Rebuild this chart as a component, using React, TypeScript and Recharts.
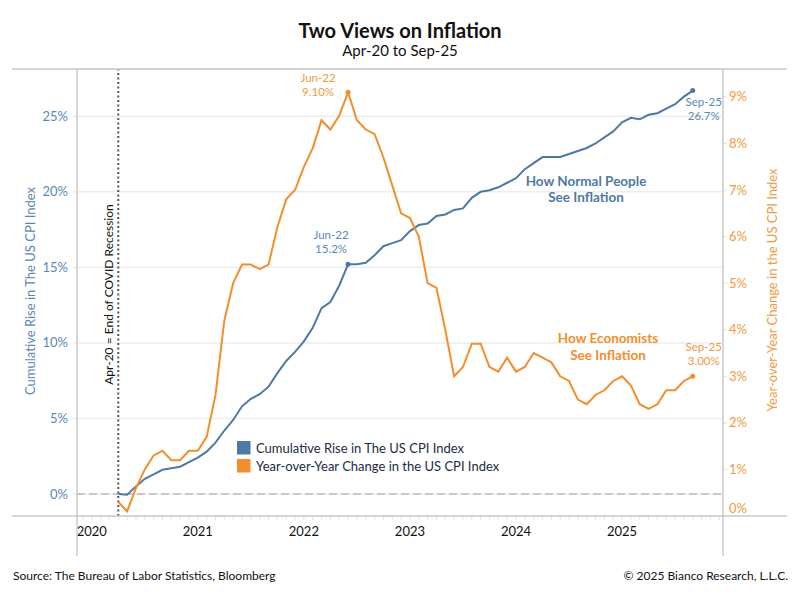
import React from "react";
import {
  CartesianGrid,
  Line,
  LineChart,
  ReferenceDot,
  ReferenceLine,
  XAxis,
  YAxis,
} from "recharts";

const FONT = "Lato, 'Open Sans', sans-serif";
const BLUE = "#4e79a7";
const ORANGE = "#f28e2b";
const BLUE_TEXT = "#5b87b8";
const ORANGE_TEXT = "#f39a40";
const FRAME = "#c8c8c8";

// monthly, Apr-20 .. Sep-25 (x = months after Jan-20)
const startMonth = 3;
const cumulativeRise = [
  0.0, -0.05, 0.5, 1.0, 1.3, 1.6, 1.7, 1.8, 2.1,
  2.4, 2.8, 3.4, 4.2, 4.9, 5.8, 6.3, 6.6, 7.1, 8.0, 8.8, 9.4,
  10.1, 11.0, 12.3, 12.7, 13.8, 15.2, 15.2, 15.3, 15.8, 16.4, 16.6, 16.8,
  17.4, 17.8, 17.9, 18.4, 18.5, 18.8, 18.9, 19.6, 20.0, 20.1, 20.3, 20.6,
  20.9, 21.5, 21.9, 22.3, 22.3, 22.3, 22.5, 22.7, 22.9, 23.2, 23.6, 24.0,
  24.6, 24.9, 24.8, 25.1, 25.2, 25.5, 25.8, 26.3, 26.7,
];
const yoyChange = [
  0.3, 0.1, 0.6, 1.0, 1.3, 1.4, 1.2, 1.2, 1.4,
  1.4, 1.7, 2.6, 4.2, 5.0, 5.4, 5.4, 5.3, 5.4, 6.2, 6.8, 7.0,
  7.5, 7.9, 8.5, 8.3, 8.6, 9.1, 8.5, 8.3, 8.2, 7.7, 7.1, 6.5,
  6.4, 6.0, 5.0, 4.9, 4.0, 3.0, 3.2, 3.7, 3.7, 3.2, 3.1, 3.4,
  3.1, 3.2, 3.5, 3.4, 3.3, 3.0, 2.9, 2.5, 2.4, 2.6, 2.7, 2.9,
  3.0, 2.8, 2.4, 2.3, 2.4, 2.7, 2.7, 2.9, 3.0,
];
const yearLabels = ["2020", "2021", "2022", "2023", "2024", "2025"];
const leftTicks = [0, 5, 10, 15, 20, 25];
const rightTicks = [0, 1, 2, 3, 4, 5, 6, 7, 8, 9];
const monthTicks = Array.from({ length: 73 }, (_, i) => i - 1);

const MONTHS = ["Jan", "Feb", "Mar", "Apr", "May", "Jun", "Jul", "Aug", "Sep", "Oct", "Nov", "Dec"];
const monthName = (m: number) => `${MONTHS[m % 12]}-${20 + Math.floor(m / 12)}`;

const data = cumulativeRise.map((cum, i) => ({
  m: startMonth + i,
  label: monthName(startMonth + i),
  cum,
  yoy: yoyChange[i],
}));
const pointAt = (label: string) => data.find((d) => d.label === label)!;

const jun22 = pointAt("Jun-22");
const sep25 = pointAt("Sep-25");

const YearTick = (props: any) => {
  const { x, y, payload } = props;
  const m = payload.value;
  if (m < 0 || m % 12 !== 0) return null;
  return (
    <text x={x} y={y + 14} textAnchor="middle" fontSize={13} fill="#111" fontFamily={FONT}>
      {yearLabels[m / 12]}
    </text>
  );
};

const RightTick = (props: any) => {
  const { x, y, payload } = props;
  return (
    <text
      x={x}
      y={payload.value === 0 ? y - 8 : y}
      dy="0.35em"
      textAnchor="start"
      fontSize={13}
      fill={ORANGE_TEXT}
      fontFamily={FONT}
    >
      {payload.value}%
    </text>
  );
};

// two-line callout next to a reference dot
const callout =
  (l1: string, l2: string, dx: number, dy: number, color: string) => (props: any) => {
    const { viewBox } = props;
    const cx = viewBox.x + viewBox.width / 2;
    const cy = viewBox.y + viewBox.height / 2;
    return (
      <text fontSize={11.5} fill={color} fontFamily={FONT} textAnchor="middle">
        <tspan x={cx + dx} y={cy + dy}>{l1}</tspan>
        <tspan x={cx + dx} y={cy + dy + 14}>{l2}</tspan>
      </text>
    );
  };

const RecessionLabel = (props: any) => {
  const { viewBox } = props;
  const x = viewBox.x - 9;
  const y = viewBox.y + viewBox.height / 2 + 2;
  return (
    <text
      x={x}
      y={y}
      transform={`rotate(-90, ${x}, ${y})`}
      textAnchor="middle"
      dy="0.35em"
      fontSize={12}
      fill="#111"
      fontFamily={FONT}
    >
      Apr-20 = End of COVID Recession
    </text>
  );
};

function Overlay() {
  return (
    <svg
      width={800}
      height={600}
      style={{ position: "absolute", left: 0, top: 0, pointerEvents: "none" }}
      fontFamily={FONT}
    >
      {/* frame */}
      <line x1={12} x2={787} y1={69} y2={69} stroke={FRAME} strokeWidth={1.5} />
      <line x1={12} x2={787} y1={516} y2={516} stroke={FRAME} strokeWidth={1.5} />
      <line x1={77} x2={77} y1={69} y2={556} stroke={FRAME} strokeWidth={1.5} />
      <line x1={723} x2={723} y1={69} y2={556} stroke={FRAME} strokeWidth={1.5} />

      <text x={400} y={38} textAnchor="middle" fontSize={20} fontWeight={700} fill="#111">
        Two Views on Inflation
      </text>
      <text x={400} y={56} textAnchor="middle" fontSize={15} fill="#111">
        Apr-20 to Sep-25
      </text>

      <text x={30} y={291} transform="rotate(-90, 30, 291)" textAnchor="middle" dy="0.35em" fontSize={13} fill={BLUE_TEXT}>
        Cumulative Rise in The US CPI Index
      </text>
      <text x={772} y={290} transform="rotate(-90, 772, 290)" textAnchor="middle" dy="0.35em" fontSize={13} fill={ORANGE_TEXT}>
        Year-over-Year Change in the US CPI Index
      </text>

      <text textAnchor="middle" fontSize={13.5} fontWeight={700} fill={BLUE}>
        <tspan x={586} y={186}>How Normal People</tspan>
        <tspan x={586} y={202}>See Inflation</tspan>
      </text>
      <text textAnchor="middle" fontSize={13.5} fontWeight={700} fill={ORANGE}>
        <tspan x={608} y={343}>How Economists</tspan>
        <tspan x={608} y={360}>See Inflation</tspan>
      </text>

      {/* legend */}
      <rect x={237} y={441} width={13.5} height={13.5} fill={BLUE} />
      <text x={256} y={448} dy="0.35em" fontSize={13} fill="#1c2b3f">
        Cumulative Rise in The US CPI Index
      </text>
      <rect x={237} y={459} width={13.5} height={13.5} fill={ORANGE} />
      <text x={256} y={466} dy="0.35em" fontSize={13} fill="#1c2b3f">
        Year-over-Year Change in the US CPI Index
      </text>

      <text x={13} y={580} fontSize={12} fill="#111">
        Source: The Bureau of Labor Statistics, Bloomberg
      </text>
      <text x={788} y={580} textAnchor="end" fontSize={12} fill="#111">
        © 2025 Bianco Research, L.L.C.
      </text>
    </svg>
  );
}

export default function App() {
  return (
    <div style={{ position: "absolute", left: 0, top: 0, width: 800, height: 600, background: "#fff" }}>
      <LineChart width={800} height={600} data={data} margin={{ top: 69, right: 0, bottom: 54, left: 0 }}>
        <CartesianGrid yAxisId="left" vertical={false} stroke="#ededed" strokeWidth={1.5} />
        <XAxis
          dataKey="m"
          type="number"
          domain={[-1.67, 71.42]}
          ticks={monthTicks}
          interval={0}
          allowDataOverflow
          axisLine={false}
          tickLine={{ stroke: "#e2e2e2" }}
          tickSize={4}
          tick={<YearTick />}
          height={30}
        />
        <YAxis
          yAxisId="left"
          domain={[-1.46, 28.13]}
          ticks={leftTicks}
          allowDataOverflow
          width={77}
          axisLine={false}
          tickLine={{ stroke: "#e2e2e2" }}
          tickSize={4}
          tickMargin={5}
          tickFormatter={(v) => `${v}%`}
          tick={{ fontSize: 13, fill: BLUE_TEXT, fontFamily: FONT }}
        />
        <YAxis
          yAxisId="right"
          orientation="right"
          domain={[0, 9.6]}
          ticks={rightTicks}
          allowDataOverflow
          width={77}
          axisLine={false}
          tickLine={{ stroke: "#e2e2e2" }}
          tickSize={4}
          tick={<RightTick />}
        />
        <ReferenceLine yAxisId="left" y={0} stroke="#c8c8c8" strokeWidth={2} strokeDasharray="8 4" />
        <ReferenceLine
          yAxisId="left"
          x={startMonth}
          stroke="#555"
          strokeWidth={2}
          strokeDasharray="2 2.5"
          label={<RecessionLabel />}
        />
        <Line
          yAxisId="left"
          type="linear"
          dataKey="cum"
          stroke={BLUE}
          strokeWidth={2}
          dot={false}
          activeDot={false}
          isAnimationActive={false}
        />
        <Line
          yAxisId="right"
          type="linear"
          dataKey="yoy"
          stroke={ORANGE}
          strokeWidth={2}
          dot={false}
          activeDot={false}
          isAnimationActive={false}
        />
        <ReferenceDot
          yAxisId="right"
          x={jun22.m}
          y={jun22.yoy}
          r={2.5}
          fill={ORANGE}
          stroke="none"
          label={callout("Jun-22", `${jun22.yoy.toFixed(2)}%`, -30, -10, ORANGE_TEXT)}
        />
        <ReferenceDot
          yAxisId="left"
          x={jun22.m}
          y={jun22.cum}
          r={2.5}
          fill={BLUE}
          stroke="none"
          label={callout("Jun-22", `${jun22.cum.toFixed(1)}%`, -17, -25, BLUE_TEXT)}
        />
        <ReferenceDot
          yAxisId="left"
          x={sep25.m}
          y={sep25.cum}
          r={2.5}
          fill={BLUE}
          stroke="none"
          label={callout("Sep-25", `${sep25.cum.toFixed(1)}%`, 11, 15, BLUE_TEXT)}
        />
        <ReferenceDot
          yAxisId="right"
          x={sep25.m}
          y={sep25.yoy}
          r={2.5}
          fill={ORANGE}
          stroke="none"
          label={callout("Sep-25", `${sep25.yoy.toFixed(2)}%`, 11, -25, ORANGE_TEXT)}
        />
      </LineChart>
      <Overlay />
    </div>
  );
}
